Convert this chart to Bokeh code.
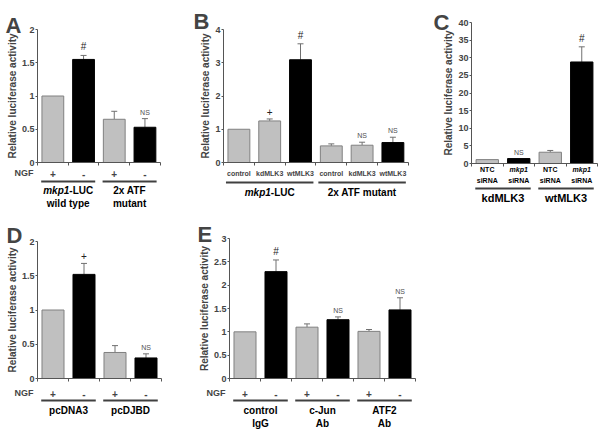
import numpy as np
from bokeh.plotting import figure
from bokeh.models import (Range1d, FixedTicker, NumeralTickFormatter, Whisker, TeeHead,
                          Label, LabelSet, ColumnDataSource)
from bokeh.core.properties import value
from bokeh.layouts import row, column
from bokeh.embed import file_html
from bokeh.resources import INLINE

FONT = "Liberation Sans"
GRAY = "#c0c0c0"
GRAY_EDGE = "#808080"
BLACK = "#000000"
AXIS = "#555555"
ERR = "#707070"

# ---------------- data ----------------
A_categories = ["+", "-", "+", "-"]
A_values = [1.0, 1.55, 0.65, 0.53]
A_errors = [0.0, 0.06, 0.12, 0.13]
A_black = [0, 1, 0, 1]
A_marks = ["", "#", "", "NS"]
A_groups = ["mkp1-LUC\nwild type", "2x ATF\nmutant"]
A_group_sizes = [2, 2]

B_categories = ["control", "kdMLK3", "wtMLK3", "control", "kdMLK3", "wtMLK3"]
B_values = [1.0, 1.25, 3.09, 0.50, 0.52, 0.60]
B_errors = [0.0, 0.06, 0.48, 0.06, 0.09, 0.16]
B_black = [0, 0, 1, 0, 0, 1]
B_marks = ["", "+", "#", "", "NS", "NS"]
B_groups = ["mkp1-LUC", "2x ATF mutant"]
B_group_sizes = [3, 3]

C_categories = ["NTC\nsiRNA", "mkp1\nsiRNA", "NTC\nsiRNA", "mkp1\nsiRNA"]
C_values = [1.1, 1.4, 3.2, 28.8]
C_errors = [0.0, 0.0, 0.5, 4.3]
C_black = [0, 1, 0, 1]
C_marks = ["", "NS", "", "#"]
C_groups = ["kdMLK3", "wtMLK3"]
C_group_sizes = [2, 2]

D_categories = ["+", "-", "+", "-"]
D_values = [1.0, 1.52, 0.38, 0.30]
D_errors = [0.0, 0.16, 0.10, 0.06]
D_black = [0, 1, 0, 1]
D_marks = ["", "+", "", "NS"]
D_groups = ["pcDNA3", "pcDJBD"]
D_group_sizes = [2, 2]

E_categories = ["+", "-", "+", "-", "+", "-"]
E_values = [1.0, 2.29, 1.10, 1.26, 1.01, 1.47]
E_errors = [0.0, 0.25, 0.07, 0.06, 0.04, 0.26]
E_black = [0, 1, 0, 1, 0, 1]
E_marks = ["", "#", "", "NS", "", "NS"]
E_groups = ["control\nIgG", "c-Jun\nAb", "ATF2\nAb"]
E_group_sizes = [2, 2, 2]

Y_LABEL = "Relative luciferase activity"

TAIL_W = {"-": 0.333, "L": 0.611, "U": 0.722, "C": 0.722}


def text_line(p, xc, yoff, s, size):
    """One line of bold text centred on data x, yoff px below y=0;
    a leading 'mkp1' is set in italics."""
    common = dict(y=0, y_offset=-yoff, text_baseline="middle", text_font=FONT,
                  text_font_size=f"{size}px", text_color="black")
    if s.startswith("mkp1"):
        tail = s[4:]
        if tail:
            w_head = 2.612 * size
            w_tail = sum(TAIL_W.get(c, 0.556) for c in tail) * size
            split = (w_head - w_tail) / 2
            p.add_layout(Label(x=xc, x_offset=split, text="mkp1", text_align="right",
                               text_font_style="bold italic", **common))
            p.add_layout(Label(x=xc, x_offset=split, text=tail, text_align="left",
                               text_font_style="bold", **common))
        else:
            p.add_layout(Label(x=xc, text=s, text_align="center",
                               text_font_style="bold italic", **common))
    else:
        p.add_layout(Label(x=xc, text=s, text_align="center",
                           text_font_style="bold", **common))


def build(cats, vals, errs, black, marks, groups, sizes, letter, y_end, y_step,
          W, H, L, S, T, Hf, letter_dx, letter_dy,
          cat_size, cat_standoff, line_off, group_offs, ngf=None,
          manual_cats=None, group_size=10, inset=0.12):
    n = len(cats)
    xs = list(range(1, n + 1))
    # the frame fills the whole figure; axes are drawn at fixed locations
    x_lo = 0.5 - L / S
    x_hi = x_lo + W / S
    U = Hf / y_end
    y_hi = y_end + T / U
    y_lo = y_hi - H / U
    p = figure(width=W, height=H, x_range=Range1d(x_lo, x_hi),
               y_range=Range1d(y_lo, y_hi), output_backend="svg",
               toolbar_location=None, tools="", min_border=0,
               min_border_left=0, min_border_right=0,
               min_border_top=0, min_border_bottom=0)
    p.title.visible = False
    p.outline_line_color = None
    p.grid.visible = False
    p.background_fill_color = "white"
    p.border_fill_color = "white"

    fills = [BLACK if b else GRAY for b in black]
    edges = [BLACK if b else GRAY_EDGE for b in black]
    src = ColumnDataSource(dict(x=xs, top=vals, fill=fills, edge=edges))
    p.vbar(x="x", top="top", bottom=0, width=0.71, fill_color="fill",
           line_color="edge", line_width=1, source=src)

    # error bars (upper only)
    ex = [x for x, e in zip(xs, errs) if e > 0]
    elo = [v for v, e in zip(vals, errs) if e > 0]
    ehi = [v + e for v, e in zip(vals, errs) if e > 0]
    esrc = ColumnDataSource(dict(base=ex, lower=elo, upper=ehi))
    p.add_layout(Whisker(source=esrc, base="base", lower="lower", upper="upper",
                         dimension="height", line_color=ERR, line_width=1,
                         lower_head=None,
                         upper_head=TeeHead(size=6, line_color=ERR, line_width=1)))

    # significance marks
    mx = [x for x, m in zip(xs, marks) if m]
    my = [v + e for v, e, m in zip(vals, errs, marks) if m]
    mt = [m for m in marks if m]
    msz = ["7px" if m == "NS" else "10px" for m in mt]
    mcol = ["#505050" if m == "NS" else "#222222" for m in mt]
    msrc = ColumnDataSource(dict(x=mx, y=my, t=mt, s=msz, c=mcol))
    p.add_layout(LabelSet(x="x", y="y", text="t", source=msrc, y_offset=3,
                          text_align="center", text_baseline="bottom",
                          text_font=value(FONT), text_font_size="s", text_color="c"))

    # y axis
    yax = p.yaxis[0]
    yax.fixed_location = 0.5
    yax.bounds = (0, y_end)
    yax.ticker = FixedTicker(ticks=list(np.arange(0, y_end + 1e-9, y_step)), minor_ticks=[])
    yax.formatter = NumeralTickFormatter(format="0.[0]")
    yax.axis_label = Y_LABEL
    yax.axis_label_text_font = FONT
    yax.axis_label_text_font_size = "10px"
    yax.axis_label_text_font_style = "bold"
    yax.axis_label_standoff = 1
    yax.major_label_text_font = FONT
    yax.major_label_text_font_size = "9px"
    yax.major_label_text_font_style = "bold"
    yax.major_label_standoff = 1
    yax.major_tick_out = 2
    yax.major_tick_in = 0
    yax.minor_tick_out = 0
    yax.minor_tick_in = 0
    yax.axis_line_color = AXIS
    yax.major_tick_line_color = AXIS

    # x axis
    xax = p.xaxis[0]
    xax.fixed_location = 0
    xax.bounds = (0.5, n + 0.5)
    xax.ticker = FixedTicker(ticks=xs, minor_ticks=[x - 0.5 for x in xs] + [n + 0.5])
    if manual_cats is None:
        xax.major_label_overrides = {x: c for x, c in zip(xs, cats)}
    else:
        xax.major_label_overrides = {x: "" for x in xs}
        for x, c in zip(xs, cats):
            for line, off in zip(c.split("\n"), manual_cats):
                text_line(p, x, off, line, cat_size)
    xax.major_label_text_font = FONT
    xax.major_label_text_font_size = f"{cat_size}px"
    xax.major_label_text_font_style = "bold"
    xax.major_label_standoff = cat_standoff
    xax.major_tick_out = 0
    xax.major_tick_in = 0
    xax.minor_tick_out = 3
    xax.minor_tick_in = 0
    xax.axis_line_color = AXIS
    xax.minor_tick_line_color = AXIS

    if ngf is not None:
        p.add_layout(Label(x=0.5, y=0, x_offset=-4, y_offset=-ngf, text="NGF",
                           text_align="right", text_baseline="middle", text_font=FONT,
                           text_font_size="9px", text_font_style="bold"))

    # group underlines and labels
    starts = np.cumsum([0] + sizes[:-1]) + 1
    ends = np.cumsum(sizes)
    lo = [float(s) - 0.5 + inset for s in starts]
    hi = [float(e) + 0.5 - inset for e in ends]
    gsrc = ColumnDataSource(dict(base=[-line_off / U] * len(sizes), lower=lo, upper=hi))
    p.add_layout(Whisker(source=gsrc, base="base", lower="lower", upper="upper",
                         dimension="width", lower_head=None,
                         upper_head=None, line_color="#404040", line_width=2))
    for g, s, e in zip(groups, starts, ends):
        xc = (float(s) + float(e)) / 2
        for line, off in zip(g.split("\n"), group_offs):
            text_line(p, xc, off, line, group_size)

    p.add_layout(Label(x=0.5, y=y_end, x_offset=letter_dx, y_offset=letter_dy, text=letter,
                       text_align="left", text_baseline="alphabetic", text_font=FONT,
                       text_font_size="22px", text_font_style="bold"))
    return p


#              W    H    L   S     T   Hf   ldx  ldy  cat stdoff line groups
pA = build(A_categories, A_values, A_errors, A_black, A_marks, A_groups, A_group_sizes, "A",
           2, 0.5, 186, 212, 37, 30.7, 29, 133, -32, 4,
           10, 4, 19, [28, 41], ngf=10)
pB = build(B_categories, B_values, B_errors, B_black, B_marks, B_groups, B_group_sizes, "B",
           4, 1, 230, 212, 37, 30.8, 29, 133, -30, 8,
           7, 4, 20, [30], inset=0.08)
pC = build(C_categories, C_values, C_errors, C_black, C_marks, C_groups, C_group_sizes, "C",
           40, 5, 186, 212, 55, 31.5, 22, 141, -38, 0,
           7, 2, 25, [34], manual_cats=[6, 17], group_size=11)
pD = build(D_categories, D_values, D_errors, D_black, D_marks, D_groups, D_group_sizes, "D",
           2, 0.5, 186, 220, 37, 31, 29, 137, -31, 6,
           10, 8, 22, [32], ngf=14)
pE = build(E_categories, E_values, E_errors, E_black, E_marks, E_groups, E_group_sizes, "E",
           3, 0.5, 234, 220, 43, 31, 26, 140, -32, 4,
           10, 8, 22, [32, 45], ngf=14)

layout = column(row(pA, pB, pC), row(pD, pE))
open("out.html", "w").write(file_html(layout, INLINE))
